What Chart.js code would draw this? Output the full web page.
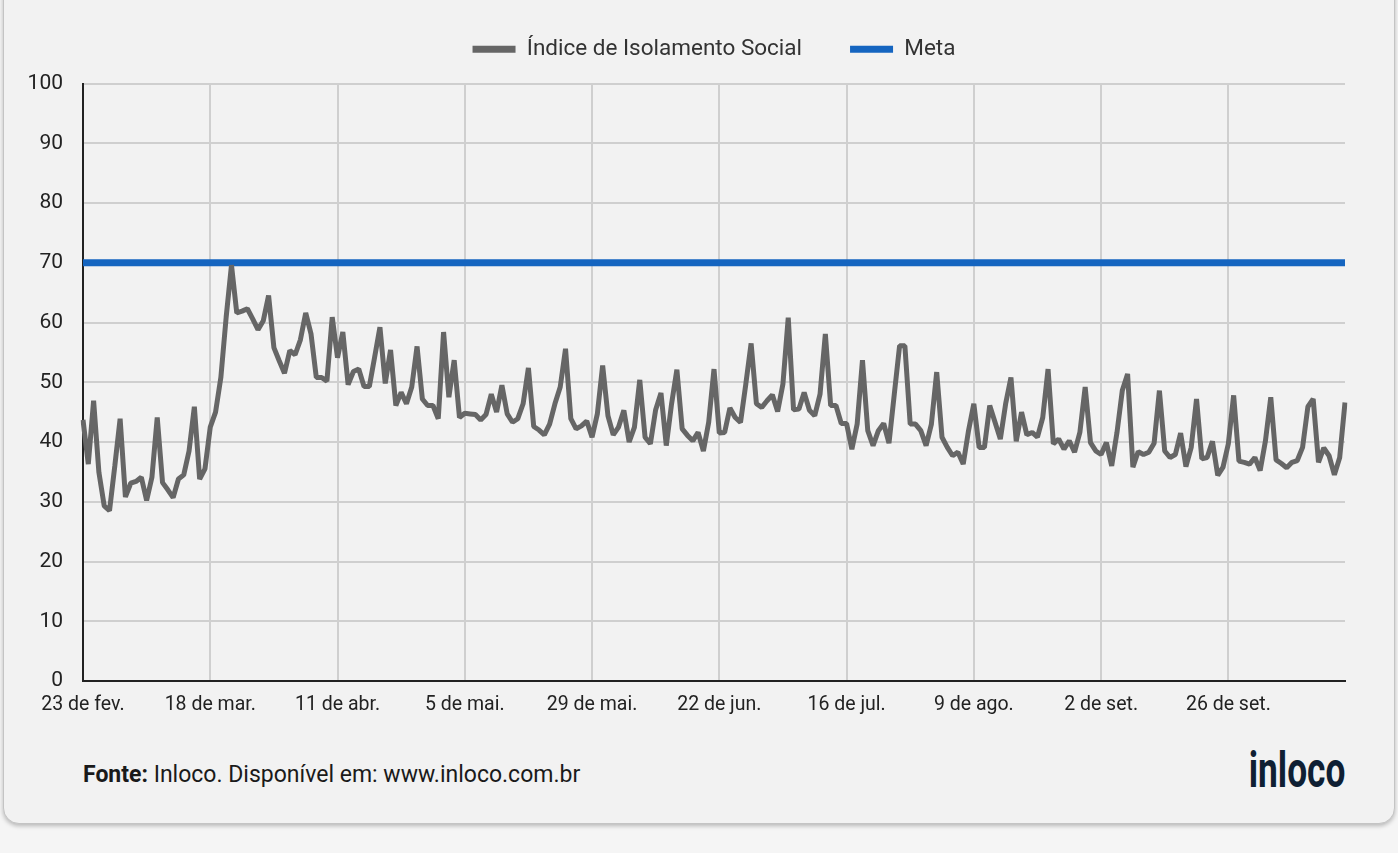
<!DOCTYPE html>
<html lang="pt-BR">
<head>
<meta charset="utf-8">
<title>Índice de Isolamento Social</title>
<script src="https://cdn.jsdelivr.net/npm/chart.js@4.4.1/dist/chart.umd.min.js"></script>
<style>
  html, body { margin: 0; padding: 0; }
  body {
    width: 1398px; height: 853px; position: relative; overflow: hidden;
    background: #f5f5f5; font-family: Roboto, sans-serif;
  }
  .card {
    position: absolute; left: 3px; top: -20px; width: 1390px; height: 842px;
    background: #f2f2f2; border: 1px solid #c4c4c4; border-radius: 16px;
    box-shadow: 0 2px 4px rgba(0, 0, 0, 0.25);
  }
  #wrap { position: absolute; left: 0; top: 0; width: 1398px; height: 740px; }
  .fonte { position: absolute; left: 83px; top: 761px; font-size: 23px; color: #1a1a1a; }
  .fonte b { font-weight: 700; }
  .logo {
    position: absolute; right: 53px; top: 752px; font-size: 41px; font-weight: 700;
    color: #0f1f33; transform: scale(0.86, 1.22); transform-origin: right bottom;
    line-height: 46px;
  }
</style>
</head>
<body>
<div class="card"></div>
<div id="wrap"><canvas id="chart"></canvas></div>
<div class="fonte"><b>Fonte:</b> Inloco. Disponível em: www.inloco.com.br</div>
<div class="logo">inloco</div>

<script>
// daily index, 23 de fev. -> 18 de out.
const isolamento = [
  43.7, 36.3, 46.9, 34.9, 29.3, 28.5, 36.0, 43.9, 30.8, 33.1,
  33.4, 34.1, 30.2, 34.1, 44.1, 33.2, 32.0, 30.7, 33.8, 34.5,
  38.5, 45.9, 33.8, 35.5, 42.5, 45.0, 50.8, 60.9, 69.6, 61.6,
  61.9, 62.3, 60.6, 58.8, 60.3, 64.5, 55.8, 53.6, 51.5, 55.3,
  54.6, 57.1, 61.6, 58.1, 50.8, 50.8, 50.2, 60.9, 54.1, 58.4,
  49.6, 51.8, 52.2, 49.3, 49.3, 54.2, 59.2, 49.8, 55.4, 46.1,
  48.3, 46.4, 49.2, 56.0, 47.2, 46.1, 46.1, 43.9, 58.4, 47.5,
  53.7, 44.1, 44.8, 44.7, 44.6, 43.7, 44.6, 48.0, 45.0, 49.5,
  44.7, 43.3, 43.9, 46.4, 52.4, 42.6, 42.0, 41.2, 43.0, 46.4,
  49.2, 55.6, 43.9, 42.2, 42.7, 43.5, 40.8, 44.7, 52.8, 44.4,
  41.2, 42.5, 45.3, 40.0, 42.5, 50.4, 40.8, 39.7, 45.4, 48.2,
  39.4, 46.4, 52.1, 42.2, 41.1, 40.2, 41.6, 38.5, 43.3, 52.2,
  41.5, 41.6, 45.7, 44.1, 43.3, 49.7, 56.5, 46.4, 45.8, 46.9,
  47.9, 45.1, 49.7, 60.8, 45.4, 45.5, 48.3, 45.3, 44.4, 48.0,
  58.1, 46.1, 46.1, 43.1, 43.1, 38.8, 43.0, 53.7, 41.9, 39.4,
  41.9, 43.1, 39.8, 48.0, 56.1, 56.1, 43.0, 43.0, 41.9, 39.4,
  43.0, 51.7, 40.8, 39.1, 37.7, 38.3, 36.3, 41.9, 46.4, 39.1,
  39.1, 46.1, 43.3, 40.5, 46.4, 50.8, 40.1, 45.0, 41.2, 41.6,
  40.8, 44.1, 52.2, 39.7, 40.5, 38.8, 40.2, 38.3, 41.6, 49.2,
  39.9, 38.5, 37.9, 39.9, 36.0, 41.6, 48.6, 51.4, 35.8, 38.4,
  37.9, 38.3, 39.8, 48.6, 38.5, 37.4, 37.9, 41.5, 35.9, 39.1,
  47.2, 37.2, 37.4, 40.1, 34.4, 35.8, 39.7, 47.8, 36.8, 36.6,
  36.3, 37.4, 35.2, 40.2, 47.5, 37.0, 36.4, 35.7, 36.6, 36.9,
  39.1, 45.9, 47.2, 36.6, 39.0, 37.7, 34.5, 37.4, 46.6
];
const meta = 70;
const tickLabels = ['23 de fev.', '18 de mar.', '11 de abr.', '5 de mai.', '29 de mai.',
  '22 de jun.', '16 de jul.', '9 de ago.', '2 de set.', '26 de set.'];
const tickEvery = 24; // days between labels

const days = isolamento.map((_, i) => i);
const metaLine = isolamento.map(() => meta);

const gridColor = '#cfcfcf';
const axisColor = '#222';

// centre the legend over the plot and lift it a bit above the plot top
const legendOverPlot = {
  id: 'legendOverPlot',
  afterLayout(chart) {
    const lg = chart.legend;
    lg.left = chart.chartArea.left;
    lg.right = chart.chartArea.right;
    lg.top -= 13;
    lg.bottom -= 13;
  }
};

new Chart(document.getElementById('chart'), {
  type: 'line',
  data: {
    labels: days,
    datasets: [
      {
        label: 'Índice de Isolamento Social',
        data: isolamento,
        borderColor: '#666666',
        backgroundColor: '#666666',
        borderWidth: 5,
        borderJoinStyle: 'bevel',
        pointRadius: 0,
        tension: 0
      },
      {
        label: 'Meta',
        data: metaLine,
        borderColor: '#1565c0',
        backgroundColor: '#1565c0',
        borderWidth: 7,
        pointRadius: 0,
        tension: 0
      }
    ]
  },
  options: {
    responsive: true,
    maintainAspectRatio: false,
    animation: false,
    layout: { padding: { left: 0, right: 53, top: 3, bottom: 19 } },
    scales: {
      x: {
        type: 'category',
        offset: false,
        grid: { color: gridColor, lineWidth: 2, drawTicks: false },
        border: { color: axisColor, width: 2 },
        ticks: {
          autoSkip: false,
          maxRotation: 0,
          padding: 12,
          color: axisColor,
          font: { family: 'Roboto', size: 19.5 },
          callback: (v, i) => (i % tickEvery === 0 ? tickLabels[i / tickEvery] : null)
        },
        afterFit: (s) => { s.height = 40; }
      },
      y: {
        min: 0,
        max: 100,
        grid: { color: gridColor, lineWidth: 2, drawTicks: false },
        border: { color: axisColor, width: 2 },
        ticks: { stepSize: 10, padding: 20, color: axisColor, font: { family: 'Roboto', size: 21 } },
        afterFit: (s) => { s.width = 83; }
      }
    },
    plugins: {
      legend: {
        position: 'top',
        labels: {
          color: '#333',
          font: { family: 'Roboto', size: 22.5 },
          boxWidth: 43,
          boxHeight: 7,
          padding: 48,
          generateLabels: (chart) => chart.data.datasets.map((ds, i) => ({
            text: ds.label,
            fillStyle: ds.borderColor,
            strokeStyle: ds.borderColor,
            lineWidth: 0,
            fontColor: '#333',
            datasetIndex: i
          }))
        }
      },
      tooltip: { enabled: false }
    }
  },
  plugins: [legendOverPlot]
});
</script>
</body>
</html>
